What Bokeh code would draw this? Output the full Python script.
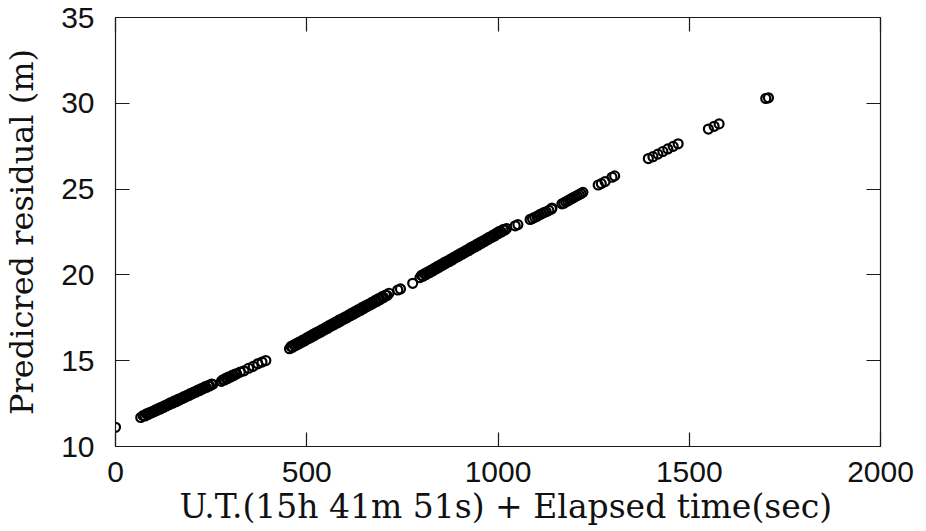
from bokeh.plotting import figure
from bokeh.models import Range1d, LinearAxis, SingleIntervalTicker, CustomJSTickFormatter, Title
from bokeh.embed import file_html
from bokeh.resources import INLINE

# ---- data ----
x_title = "U.T.(15h 41m 51s) + Elapsed time(sec)"
y_title = "Predicred residual (m)"

x_first = [0]
y_first = [11.12]

x_seg_a = [66, 72, 77, 81, 85, 89, 93, 97, 101, 105, 109, 113, 117, 121, 125, 129, 133, 137, 141, 145,
           149, 153, 158, 162, 166, 170, 175, 179, 183, 188, 192, 197, 201, 206, 210, 215, 219, 224, 228,
           233, 237, 242, 246, 251, 254]
y_seg_a = [11.69, 11.80, 11.78, 11.90, 11.86, 11.98, 11.95, 12.05, 12.02, 12.14, 12.11, 12.22, 12.19,
           12.30, 12.27, 12.39, 12.36, 12.47, 12.44, 12.56, 12.52, 12.64, 12.61, 12.73, 12.70, 12.81,
           12.79, 12.91, 12.88, 13.00, 12.97, 13.10, 13.07, 13.19, 13.16, 13.28, 13.25, 13.37, 13.35,
           13.47, 13.44, 13.55, 13.53, 13.64, 13.62]

x_seg_b = [277, 281, 285, 289, 293, 297, 301, 305, 309, 313, 317, 326, 336, 348, 360, 372, 383, 393]
y_seg_b = [13.80, 13.89, 13.88, 13.98, 13.96, 14.06, 14.05, 14.14, 14.13, 14.22, 14.23, 14.34, 14.41,
           14.56, 14.67, 14.82, 14.92, 15.01]

x_seg_c = [455, 459, 463, 467, 471, 475, 479, 483, 487, 491, 495, 500, 504, 508, 512, 516, 520, 525,
           529, 533, 537, 541, 546, 550, 554, 558, 563, 567, 571, 575, 580, 584, 588, 592, 597, 601,
           605, 610, 614, 618, 622, 627, 631, 635, 640, 644, 648, 653, 657, 661, 666, 670, 674, 679,
           683, 688, 692, 697, 701, 706, 710, 715, 738, 745, 777]
y_seg_c = [15.70, 15.83, 15.78, 15.93, 15.88, 16.03, 15.97, 16.12, 16.07, 16.22, 16.16, 16.33, 16.28,
           16.43, 16.37, 16.53, 16.47, 16.64, 16.58, 16.73, 16.67, 16.83, 16.78, 16.94, 16.88, 17.04,
           17.00, 17.15, 17.09, 17.25, 17.20, 17.36, 17.30, 17.45, 17.41, 17.56, 17.50, 17.67, 17.61,
           17.77, 17.71, 17.88, 17.82, 17.98, 17.93, 18.09, 18.03, 18.20, 18.14, 18.29, 18.25, 18.40,
           18.35, 18.51, 18.45, 18.62, 18.56, 18.73, 18.68, 18.83, 18.80, 18.93, 19.12, 19.18, 19.51]

x_seg_d = [796, 800, 804, 808, 812, 817, 821, 825, 829, 833, 838, 842, 846, 850, 855, 859, 863, 867,
           872, 876, 880, 884, 889, 893, 897, 901, 906, 910, 914, 918, 923, 927, 931, 935, 940, 944,
           948, 952, 957, 961, 965, 970, 974, 978, 983, 987, 991, 996, 1000, 1004, 1009, 1013, 1018, 1022]
y_seg_d = [19.84, 19.97, 19.92, 20.07, 20.02, 20.18, 20.13, 20.28, 20.23, 20.38, 20.34, 20.50, 20.44,
           20.60, 20.56, 20.71, 20.66, 20.81, 20.77, 20.92, 20.87, 21.02, 20.99, 21.14, 21.08, 21.24,
           21.20, 21.35, 21.30, 21.45, 21.41, 21.57, 21.52, 21.67, 21.63, 21.78, 21.73, 21.88, 21.84,
           21.99, 21.94, 22.10, 22.06, 22.21, 22.17, 22.32, 22.27, 22.43, 22.39, 22.54, 22.50, 22.64,
           22.62, 22.70]

x_seg_e = [1045, 1052, 1084, 1090, 1096, 1102, 1108, 1114, 1120, 1126, 1133, 1140, 1141, 1167, 1172,
           1177, 1182, 1187, 1192, 1197, 1202, 1207, 1212, 1217, 1222, 1262, 1270, 1280, 1298, 1305]
y_seg_e = [22.86, 22.93, 23.23, 23.28, 23.36, 23.41, 23.50, 23.56, 23.63, 23.68, 23.76, 23.84, 23.90,
           24.14, 24.18, 24.26, 24.31, 24.38, 24.44, 24.50, 24.56, 24.62, 24.68, 24.74, 24.81, 25.24,
           25.32, 25.44, 25.69, 25.77]

x_seg_f = [1393, 1405, 1418, 1431, 1444, 1458, 1471, 1550, 1565, 1578, 1700, 1707]
y_seg_f = [26.78, 26.89, 27.04, 27.19, 27.34, 27.49, 27.64, 28.50, 28.66, 28.80, 30.28, 30.32]

x_ticks_step = 500
y_ticks_step = 5

xs = x_first + x_seg_a + x_seg_b + x_seg_c + x_seg_d + x_seg_e + x_seg_f
ys = y_first + y_seg_a + y_seg_b + y_seg_c + y_seg_d + y_seg_e + y_seg_f

AX_COL = "#1a1a1a"
TICK_FONT = "Liberation Sans"
LABEL_FONT = "DejaVu Serif"

p = figure(width=926, height=531, output_backend="svg", toolbar_location=None,
           x_range=Range1d(0, 2000), y_range=Range1d(10, 35),
           min_border_left=114, min_border_right=46, min_border_top=17, min_border_bottom=85,
           y_axis_label=y_title)
p.xgrid.visible = False
p.ygrid.visible = False
p.outline_line_color = None
p.background_fill_color = None
p.border_fill_color = None

p.xaxis.ticker = SingleIntervalTicker(interval=x_ticks_step, num_minor_ticks=0)
p.yaxis.ticker = SingleIntervalTicker(interval=y_ticks_step, num_minor_ticks=0)

for ax in (p.xaxis[0], p.yaxis[0]):
    ax.major_tick_in = 14
    ax.major_tick_out = 0
    ax.minor_tick_in = 0
    ax.minor_tick_out = 0
    ax.axis_line_color = AX_COL
    ax.axis_line_width = 1.2
    ax.major_tick_line_color = AX_COL
    ax.major_tick_line_width = 1.2
    ax.major_label_text_font = TICK_FONT
    ax.major_label_text_font_size = "30px"
    ax.major_label_text_color = "#111111"
    ax.axis_label_text_font = LABEL_FONT
    ax.axis_label_text_font_size = "32px"
    ax.axis_label_text_font_style = "normal"
    ax.axis_label_text_color = "#111111"

p.xaxis.major_label_standoff = 15
p.yaxis.major_label_standoff = 21
p.yaxis.axis_label_standoff = 17

# x-axis title: text placed under the axis, starting where the reference's does
p.add_layout(Title(text=x_title, align="left", offset=64, standoff=1,
                   text_font=LABEL_FONT, text_font_size="33px", text_font_style="normal",
                   text_color="#111111"), "below")

for loc, step in (("above", x_ticks_step), ("right", y_ticks_step)):
    ax = LinearAxis(ticker=SingleIntervalTicker(interval=step, num_minor_ticks=0),
                    formatter=CustomJSTickFormatter(code="return ''"),
                    major_tick_in=14, major_tick_out=0, minor_tick_in=0, minor_tick_out=0,
                    major_label_standoff=0, major_label_text_font_size="1px",
                    axis_line_color=AX_COL, axis_line_width=1.2,
                    major_tick_line_color=AX_COL, major_tick_line_width=1.2)
    p.add_layout(ax, loc)

p.scatter(xs, ys, size=9, marker="circle", fill_color=None,
          line_color="black", line_width=2.2)

open("out.html", "w").write(file_html(p, INLINE))
